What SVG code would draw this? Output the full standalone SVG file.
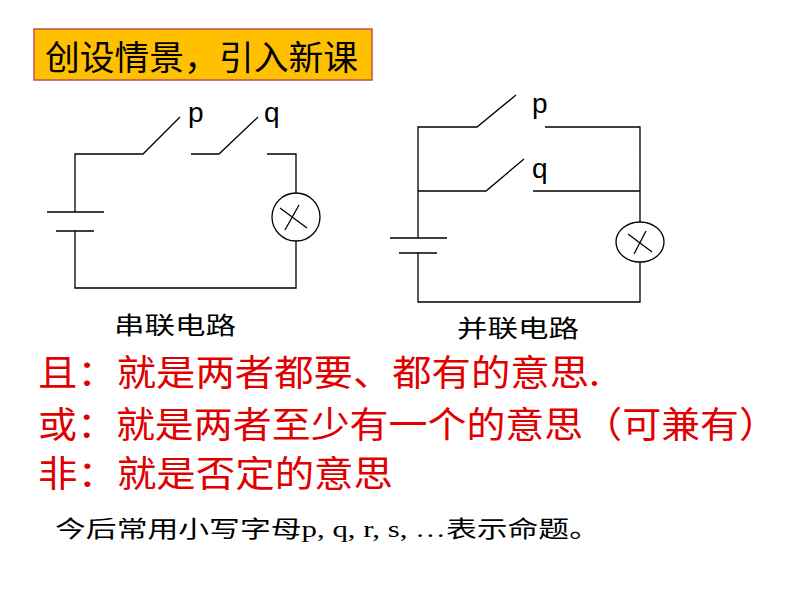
<svg xmlns="http://www.w3.org/2000/svg" width="794" height="596" viewBox="0 0 794 596">
<style>
.w{stroke:#000;stroke-width:1.3;fill:none}
.lbl{font-family:"Liberation Sans",Arial,sans-serif;font-size:28px;fill:#000}
.cjk{font-family:"Noto Sans CJK SC","Liberation Serif",serif}
.ser{font-family:"Liberation Serif","Noto Sans CJK SC",serif}
.red{fill:#e00000;font-size:36px}
</style>
<rect width="794" height="596" fill="#fff"/>
<g id="title">
<rect x="34" y="29" width="338" height="51" fill="#ffc000" stroke="#c0504d" stroke-width="1.5"/>
<text x="45" y="70" class="cjk" font-size="34" textLength="313" lengthAdjust="spacingAndGlyphs">创设情景，引入新课</text>
</g>
<g id="series">
<path class="w" d="M75 212V154H143L180 117M191 154H219L258 117M267 154H296V193M296 241V288H75V231M47 212H104M56 231H94"/>
<circle class="w" cx="296" cy="217" r="24"/>
<path class="w" d="M280 208L307 228M285 230L299 205"/>
<text class="lbl" x="188" y="122">p</text>
<text class="lbl" x="264" y="122">q</text>
<text class="cjk" x="114" y="334" font-size="24" textLength="122" lengthAdjust="spacingAndGlyphs">串联电路</text>
</g>
<g id="parallel">
<path class="w" d="M418 238V127H477L516 95M545 127H640V222M418 191H486L524 159M533 191H640M640 262V302H418V253M390 238H447M399 253H437"/>
<ellipse class="w" cx="640" cy="242" rx="24" ry="20"/>
<path class="w" d="M628 234L652 252M634 254L646 231"/>
<text class="lbl" x="532" y="113">p</text>
<text class="lbl" x="532" y="178">q</text>
<text class="cjk" x="457" y="337" font-size="24" textLength="122" lengthAdjust="spacingAndGlyphs">并联电路</text>
</g>
<g id="text">
<text class="cjk red" x="38" y="386" textLength="562" lengthAdjust="spacingAndGlyphs">且：就是两者都要、都有的意思.</text>
<text class="cjk red" x="38" y="438" textLength="740" lengthAdjust="spacingAndGlyphs">或：就是两者至少有一个的意思（可兼有）</text>
<text class="cjk red" x="38" y="487" textLength="355" lengthAdjust="spacingAndGlyphs">非：就是否定的意思</text>
<text class="ser" x="55" y="537" font-size="23" textLength="545" lengthAdjust="spacingAndGlyphs">今后常用小写字母p, q, r, s, …表示命题。</text>
</g>
</svg>
